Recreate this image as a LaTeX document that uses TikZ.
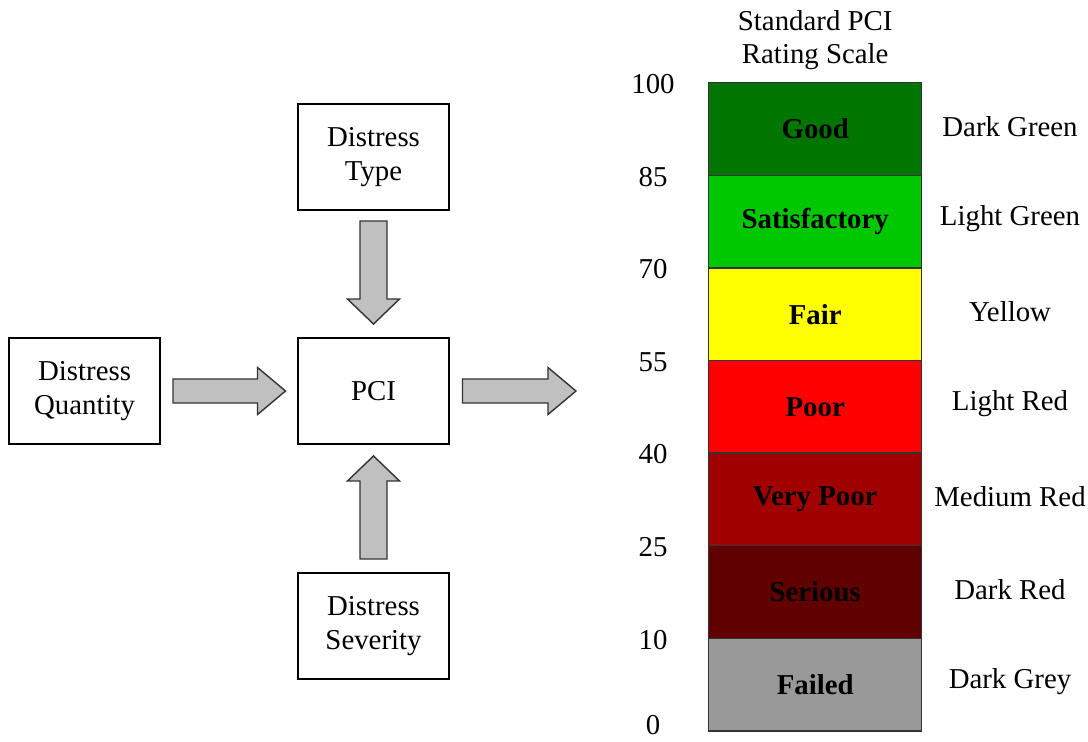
\documentclass[tikz,border=0pt]{standalone}
\usepackage{fontspec}
\setmainfont{Liberation Serif}
\usetikzlibrary{positioning, calc}
\definecolor{goodgreen}{RGB}{0,118,0}
\definecolor{satgreen}{RGB}{0,200,0}
\definecolor{fairyellow}{RGB}{255,255,0}
\definecolor{poorred}{RGB}{255,0,0}
\definecolor{vpoorred}{RGB}{160,0,0}
\definecolor{seriousred}{RGB}{96,0,0}
\definecolor{failedgrey}{RGB}{153,153,153}
\definecolor{arrowgrey}{RGB}{192,192,192}

% block arrow: start, end, shaft half width, head half width, head length
\newcommand{\fatarrow}[5]{%
  \draw[draw=black!80, fill=arrowgrey, line width=0.8pt]
    let \p1=(#1), \p2=(#2), \n1={veclen(\x2-\x1,\y2-\y1)}, \n2={atan2(\y2-\y1,\x2-\x1)} in
    [shift={(\p1)}, rotate=\n2]
    (0,#3) -- (\n1-#5,#3) -- (\n1-#5,#4) -- (\n1,0) -- (\n1-#5,-#4) -- (\n1-#5,-#3) -- (0,-#3) -- cycle;}

\begin{document}
\begin{tikzpicture}[
    font=\fontsize{16.4}{19}\selectfont,
    factor/.style={draw, line width=1.1pt, minimum width=3.02cm, minimum height=2.12cm, align=center},
    band/.style={draw=black!80, line width=0.8pt, minimum width=4.26cm, minimum height=1.852cm,
        anchor=north west, font=\fontsize{16.4}{19}\selectfont\bfseries}
]
    \useasboundingbox (0,0) rectangle (21.76,-14.84);

    % PCI and its inputs
    \node[factor] at (7.47,-7.82) (pci) {PCI};
    \node[factor, above=2.52cm of pci] (type) {Distress\\Type};
    \node[factor, below=2.54cm of pci] (severity) {Distress\\Severity};
    \node[factor, left=2.72cm of pci] (quantity) {Distress\\Quantity};
    \coordinate (out) at ([xshift=2.52cm]pci.east);

    % Block arrows
    \fatarrow{[yshift=-0.2cm]type.south}{[yshift=0.26cm]pci.north}{0.27cm}{0.52cm}{0.5cm}
    \fatarrow{[yshift=0.26cm]severity.north}{[yshift=-0.22cm]pci.south}{0.27cm}{0.52cm}{0.5cm}
    \fatarrow{[xshift=0.24cm]quantity.east}{[xshift=-0.23cm]pci.west}{0.24cm}{0.47cm}{0.56cm}
    \fatarrow{[xshift=0.25cm]pci.east}{out}{0.24cm}{0.47cm}{0.56cm}

    % Rating scale
    \foreach \lab/\col/\name [count=\i from 0] in {Good/goodgreen/Dark Green,
        Satisfactory/satgreen/Light Green, Fair/fairyellow/Yellow, Poor/poorred/Light Red,
        Very Poor/vpoorred/Medium Red, Serious/seriousred/Dark Red, Failed/failedgrey/Dark Grey}{
        \node[band, fill=\col] at (14.16,{-1.64-1.852*\i}) (band\i) {\lab};
        \node at (20.2,{-1.64-1.852*\i-0.886}) (colour\i) {\name};
    }
    \foreach \v [count=\i from 0] in {100,85,70,55,40,25,10}
        \node at (13.06,{-1.64-1.852*\i-0.04}) (tick\i) {\v};
    \node[anchor=south] at (13.06,-14.82) (tick7) {0};

    \node[align=center, above=0.12cm of band0] (title) {Standard PCI\\Rating Scale};
\end{tikzpicture}
\end{document}
